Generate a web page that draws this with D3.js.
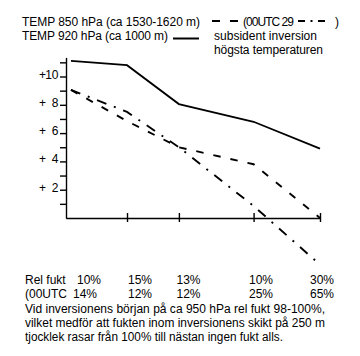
<!DOCTYPE html>
<html>
<head>
<meta charset="utf-8">
<script src="https://cdn.jsdelivr.net/npm/d3@7"></script>
<style>
  html, body { margin: 0; padding: 0; background: #fff; }
  svg { display: block; }
  text { font-family: "Liberation Sans", Arial, sans-serif; font-size: 12px; fill: #000; }
</style>
</head>
<body>
<svg id="chart" width="360" height="356"></svg>
<script>
// ---- data ----
const xVals = [0, 5.4, 10.4, 17.6, 24];              // observation points (relative position)
const temp920 = [11.1, 10.8, 8.05, 6.8, 4.9];        // TEMP 920 hPa (ca 1000 m)
const temp850 = [9.05, 6.85, 5.0, 3.8, 0];           // TEMP 850 hPa (ca 1530-1620 m)
const temp850utc00 = [9.05, 7.5, 5.0, 0.85, -3.3];   // 00UTC 29
const yTickValues = [1, 2, 3, 4, 5, 6, 7, 8, 9, 10, 11];
const yLabelValues = [10, 8, 6, 4, 2];
const relFukt = ["10%", "15%", "13%", "10%", "30%"];
const relFukt00 = ["14%", "12%", "12%", "25%", "65%"];
const notes = [
  "Vid inversionens början på ca 950 hPa rel fukt 98-100%,",
  "vilket medför att fukten inom inversionens skikt på 250 m",
  "tjocklek rasar från 100% till nästan ingen fukt alls."
];

// ---- layout ----
const svg = d3.select("#chart");
const x = d3.scaleLinear().domain([-0.5, 24]).range([65.8, 320]);
const y = d3.scaleLinear().domain([0, 11.35]).range([218, 57.4]);
const tableColX = [77, 128, 176.5, 249, 310];
const noteWidths = [300, 300, 258];

// y axis
const yAxis = svg.append("g").attr("transform", "translate(66,0)")
  .call(d3.axisLeft(y).tickValues(yTickValues).tickSize(6).tickSizeOuter(0).tickFormat(""));
yAxis.selectAll("path, line").attr("stroke", "#000").attr("stroke-width", 1.4);

// y labels: "+" and number separately
const yl = svg.append("g");
yLabelValues.forEach(v => {
  yl.append("text").attr("x", 39).attr("y", y(v) + 2).text("+");
  yl.append("text").attr("x", 58.5).attr("y", y(v) + 2).attr("text-anchor", "end").text(v);
});

// x axis
const xAxis = svg.append("g").attr("transform", "translate(0,218)")
  .call(d3.axisBottom(x).tickValues(xVals.slice(1)).tickSizeOuter(0).tickFormat(""));
xAxis.selectAll("path, line").attr("stroke", "#000").attr("stroke-width", 1.4);
xAxis.selectAll(".tick line").attr("y1", -5).attr("y2", 4);

// lines
const line = d3.line().x((d, i) => x(xVals[i])).y(d => y(d));
svg.append("path").datum(temp920).attr("d", line)
  .attr("fill", "none").attr("stroke", "#000").attr("stroke-width", 1.8);
svg.append("path").datum(temp850).attr("d", line)
  .attr("fill", "none").attr("stroke", "#000").attr("stroke-width", 1.9)
  .attr("stroke-dasharray", "7.5,10");
svg.append("path").datum(temp850utc00).attr("d", line)
  .attr("fill", "none").attr("stroke", "#000").attr("stroke-width", 1.9)
  .attr("stroke-dasharray", "10,8,2,8");

// legend
const lg = svg.append("g");
lg.append("text").attr("x", 22).attr("y", 25.5).attr("textLength", 178).text("TEMP 850 hPa (ca 1530-1620 m)");
[[212, 220], [230, 238]].forEach(s =>
  lg.append("line").attr("x1", s[0]).attr("x2", s[1]).attr("y1", 21).attr("y2", 21)
    .attr("stroke", "#000").attr("stroke-width", 2));
lg.append("text").attr("x", 243).attr("y", 25.5).attr("textLength", 51).text("(00UTC 29");
[[298, 305], [310.5, 312.5], [318, 325]].forEach(s =>
  lg.append("line").attr("x1", s[0]).attr("x2", s[1]).attr("y1", 21).attr("y2", 21)
    .attr("stroke", "#000").attr("stroke-width", 2));
lg.append("text").attr("x", 335).attr("y", 25.5).text(")");
lg.append("text").attr("x", 22).attr("y", 40).attr("textLength", 146).text("TEMP 920 hPa (ca 1000 m)");
lg.append("line").attr("x1", 173).attr("x2", 199).attr("y1", 38.5).attr("y2", 38.5)
  .attr("stroke", "#000").attr("stroke-width", 2);
lg.append("text").attr("x", 214).attr("y", 40).attr("textLength", 103).text("subsident inversion");
lg.append("text").attr("x", 214).attr("y", 53.5).attr("textLength", 109).text("högsta temperaturen");

// table rows
const tb = svg.append("g");
tb.append("text").attr("x", 25).attr("y", 284).text("Rel fukt");
tb.selectAll(".r1").data(relFukt).join("text").attr("class", "r1")
  .attr("x", (d, i) => tableColX[i]).attr("y", 284).text(d => d);
tb.append("text").attr("x", 25).attr("y", 298).text("(00UTC");
tb.selectAll(".r2").data(relFukt00).join("text").attr("class", "r2")
  .attr("x", (d, i) => tableColX[i] + (i === 0 ? -4 : 0)).attr("y", 298).text(d => d);
tb.selectAll(".note").data(notes).join("text").attr("class", "note")
  .attr("x", 25).attr("y", (d, i) => 313 + i * 14)
  .attr("textLength", (d, i) => noteWidths[i]).attr("lengthAdjust", "spacingAndGlyphs")
  .text(d => d);
</script>
</body>
</html>
